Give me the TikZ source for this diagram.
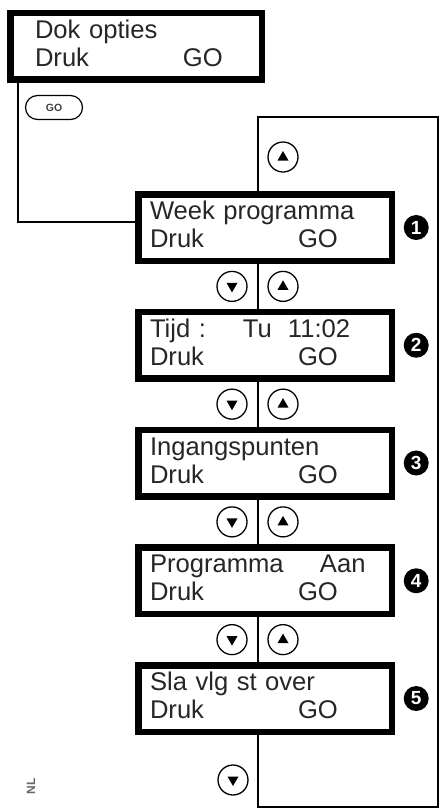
\documentclass[tikz,border=0pt]{standalone}
\usepackage{fontspec}
\setmainfont{Liberation Sans}
\usetikzlibrary{positioning,calc}

\newcommand{\gorow}[1]{\makebox[148pt][l]{#1}GO}

\begin{document}
\begin{tikzpicture}[x=1pt, y=-1pt,
lcd/.style={draw, line width=6.5pt, minimum width=253.5pt, minimum height=66.5pt, inner xsep=11.75pt, inner ysep=0pt, text width=230pt, align=left, text height=25pt, text depth=41pt, font=\fontsize{25.6}{28}\selectfont, text=black!85},
btn/.style={circle, draw, line width=1.3pt, minimum size=30pt, inner sep=0pt},
btnup/.style={btn, path picture={\fill ($(path picture bounding box.center)+(-5.5pt,-3.5pt)$) -- ++(11pt,0pt) -- ++(-5.5pt,9.5pt) -- cycle;}},
btndn/.style={btn, path picture={\fill ($(path picture bounding box.center)+(-5.5pt,3.5pt)$) -- ++(11pt,0pt) -- ++(-5.5pt,-9.5pt) -- cycle;}},
badge/.style={circle, fill=black, minimum size=25pt, inner sep=0pt, text=white, font=\bfseries\fontsize{19}{19}\selectfont},
gobtn/.style={draw, rounded corners=12pt, line width=1.2pt, minimum width=57pt, minimum height=24pt, inner sep=0pt, text=black!75, font=\bfseries\fontsize{10.5}{10.5}\selectfont},
link/.style={line width=1.3pt}
]
\useasboundingbox (0,0) rectangle (446,812);

\node[lcd, minimum width=251.5pt, text width=202pt, inner xsep=24.75pt] (dok) at (136,46) {Dok opties\\\gorow{Druk}};
\node[gobtn] (gokey) at (54,107.5) {GO};

\node[lcd] (week) at (265,227.5) {Week programma\\\gorow{Druk}};
\node[lcd, below=44.75pt of week] (tijd) {\makebox[93pt][l]{Tijd :}\makebox[45pt][l]{Tu}11:02\\\gorow{Druk}};
\node[lcd, below=44.75pt of tijd] (ingang) {Ingangspunten\\\gorow{Druk}};
\node[lcd, below=44.75pt of ingang] (progr) {\makebox[170pt][l]{Programma}Aan\\\gorow{Druk}};
\node[lcd, below=44.75pt of progr] (sla) {Sla vlg st over\\\gorow{Druk}};

\node[badge, right=8.5pt of week] (n1) {1};
\node[badge, right=8.5pt of tijd] (n2) {2};
\node[badge, right=8.5pt of ingang] (n3) {3};
\node[badge, right=8.5pt of progr] (n4) {4};
\node[badge, right=8.5pt of sla] (n5) {5};

% up/down keys
\node[btnup] (up0) at ($(week.north)+(18,-34)$) {};
\node[btndn] (dn1) at ($(week.south)!0.5!(tijd.north)+(-33,0)$) {};
\node[btnup] (up1) at ($(week.south)!0.5!(tijd.north)+(18,0)$) {};
\node[btndn] (dn2) at ($(tijd.south)!0.5!(ingang.north)+(-33,0)$) {};
\node[btnup] (up2) at ($(tijd.south)!0.5!(ingang.north)+(18,0)$) {};
\node[btndn] (dn3) at ($(ingang.south)!0.5!(progr.north)+(-33,0)$) {};
\node[btnup] (up3) at ($(ingang.south)!0.5!(progr.north)+(18,0)$) {};
\node[btndn] (dn4) at ($(progr.south)!0.5!(sla.north)+(-33,0)$) {};
\node[btnup] (up4) at ($(progr.south)!0.5!(sla.north)+(18,0)$) {};
\node[btndn] (dn5) at ($(sla.south)+(-32,45)$) {};

\node[rotate=90, text=black!60, font=\bfseries\fontsize{12}{12}\selectfont] (nl) at (31,786) {NL};

% connectors
\coordinate (bend) at (18,222);
\draw[link] (dok.south -| bend) -- (bend) -- (bend -| week.west);

\coordinate (looptop) at ($(week.north)+(-7,-74)$);
\coordinate (loopbot) at ($(sla.south)+(-7,72)$);
\coordinate (loopne) at ($(looptop)+(180,0)$);
\coordinate (loopse) at (loopne |- loopbot);
\draw[link] (week.north -| looptop) -- (looptop) -- (loopne) -- (loopse) -- (loopbot) -- (sla.south -| loopbot);
\draw[link] (week.south -| looptop) -- (tijd.north -| looptop);
\draw[link] (tijd.south -| looptop) -- (ingang.north -| looptop);
\draw[link] (ingang.south -| looptop) -- (progr.north -| looptop);
\draw[link] (progr.south -| looptop) -- (sla.north -| looptop);
\end{tikzpicture}
\end{document}
